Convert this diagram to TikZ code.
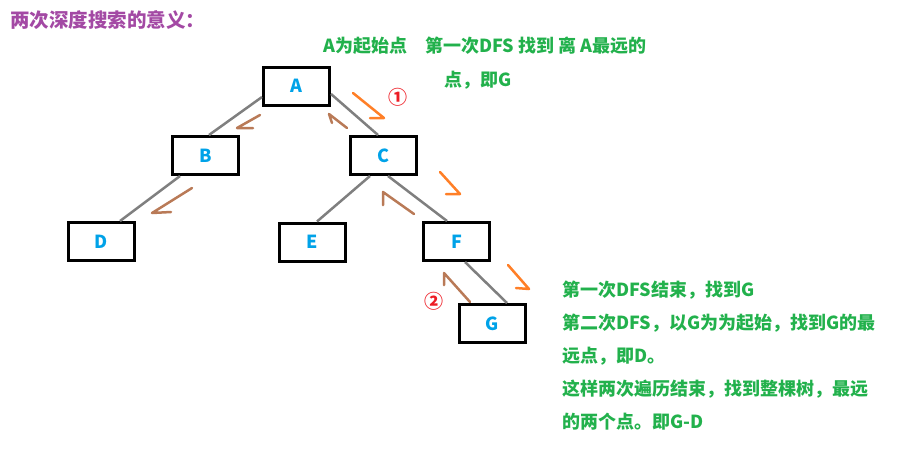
\documentclass[tikz,border=0pt]{standalone}
\usepackage{fontspec}
\setmainfont{Noto Sans CJK SC}
\newfontfamily\symfont{DejaVu Sans}
\definecolor{treeblue}{RGB}{0,162,232}
\definecolor{notegreen}{RGB}{34,177,76}
\definecolor{titlepurple}{RGB}{163,73,164}
\definecolor{walkorange}{RGB}{255,127,39}
\definecolor{walkbrown}{RGB}{185,122,87}
\definecolor{edgegray}{RGB}{127,127,127}
\definecolor{markred}{RGB}{237,28,36}
\usetikzlibrary{arrows.meta,positioning,calc}
\tikzset{
  treenode/.style={draw=black, line width=3pt, minimum width=66pt, minimum height=38pt, inner sep=0pt, text=treeblue, font=\fontsize{18}{18}\selectfont\bfseries},
  treeedge/.style={draw=edgegray, line width=2.5pt},
  goline/.style={draw=walkorange, line width=2.5pt, line join=round, line cap=round},
  backline/.style={draw=walkbrown, line width=2.5pt, line join=round, line cap=round},
  notetext/.style={text=notegreen, inner sep=0pt, anchor=base west, font=\fontsize{18}{18}\selectfont\bfseries},
  stepmark/.style={text=markred, inner sep=0pt, font=\fontsize{19}{19}\selectfont\bfseries}
}

\begin{document}
\begin{tikzpicture}[x=1pt, y=-1pt]
  \useasboundingbox (0,0) rectangle (897,451);

  % title
  \node[inner sep=0pt, anchor=base west, text=titlepurple, font=\fontsize{19.5}{19.5}\selectfont\bfseries] (title) at (10,27) {两次深度搜索的意义：};

  % tree
  \node[treenode] (A) at (296.5,86) {A};
  \node[treenode] (B) at (205.5,155.5) {B};
  \node[treenode] (C) at (383.5,155.5) {C};
  \node[treenode] (D) at (101.5,241.5) {D};
  \node[treenode] (E) at (312.5,242) {E};
  \node[treenode] (F) at (456.5,241.5) {F};
  \node[treenode] (G) at (492.5,323.5) {G};

  \draw[treeedge] ([yshift=-11pt]A.west) -- ([xshift=3.5pt]B.north);
  \draw[treeedge] ([yshift=-8pt]A.east) -- ([xshift=-5.5pt]C.north);
  \draw[treeedge] ([xshift=-25.5pt]B.south) -- ([xshift=18.5pt]D.north);
  \draw[treeedge] ([xshift=-13.5pt]C.south) -- ([xshift=4.5pt]E.north);
  \draw[treeedge] ([xshift=4.5pt]C.south) -- ([xshift=-9.5pt]F.north);
  \draw[treeedge] ([xshift=8.5pt]F.south) -- ([xshift=14.5pt]G.north);

  % first DFS, going down
  \draw[goline] (353,93) -- (384,118) -- (370,118);
  \draw[goline] (440,172) -- (460,194) -- (446,194);
  \draw[goline] (508,265) -- (529,289) -- (516,288);

  % coming back up
  \draw[backline] (470,302) -- (444,273) -- (444,285);
  \draw[backline] (414,214) -- (383,192) -- (383,205);
  \draw[backline] (347,128) -- (329,114) -- (332,123);
  \draw[backline] (260,115) -- (237,128) -- (253,128);
  \draw[backline] (192,188) -- (152,213) -- (171,212);

  \node[stepmark] (mark1) at (398,97) {①};
  \node[stepmark] (mark2) at (434,301) {②};

  % notes
  \node[notetext] (top1) at (323,52) {A为起始点\quad 第一次DFS 找到 离 A最远的};
  \node[notetext] (top2) at (444,86) {点，即G};
  \foreach \txt [count=\i] in {第一次DFS结束，找到G, 第二次DFS，以G为为起始，找到G的最, 远点，即D。, 这样两次遍历结束，找到整棵树，最远, 的两个点。即G-D}
    \node[notetext] (note\i) at (562,263.5+33*\i) {\txt};
\end{tikzpicture}
\end{document}
